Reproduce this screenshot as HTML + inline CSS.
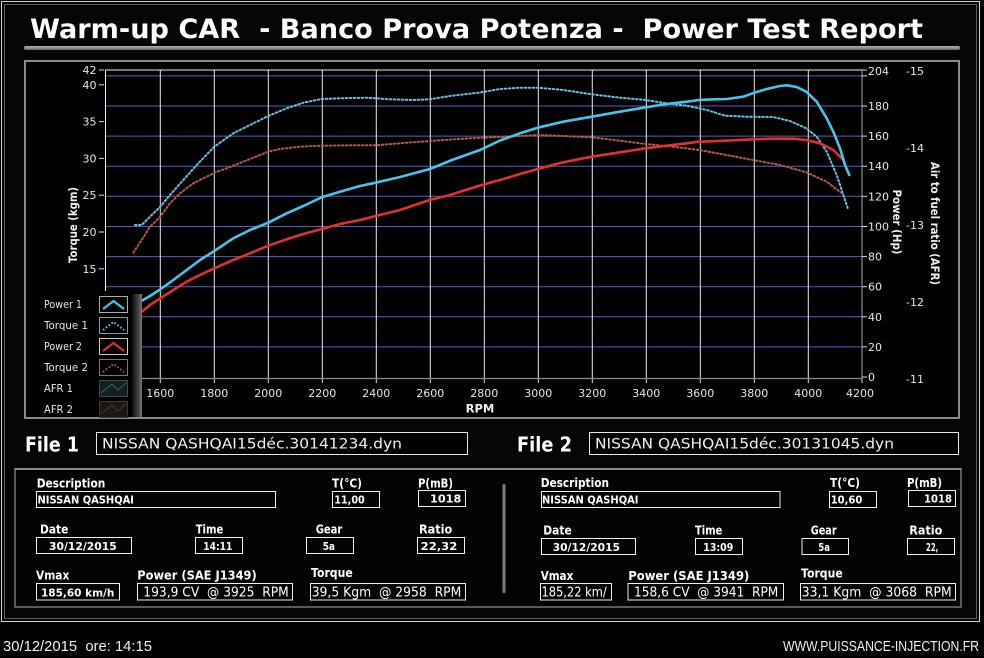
<!DOCTYPE html>
<html><head><meta charset="utf-8">
<style>
html,body{margin:0;padding:0;background:#000;}
body{width:984px;height:658px;overflow:hidden;}
svg{display:block;}
text{font-family:"Liberation Sans","DejaVu Sans",sans-serif;white-space:pre;}
.dv{font-family:"DejaVu Sans","Liberation Sans",sans-serif;}
</style></head>
<body>
<svg width="984" height="658" viewBox="0 0 984 658" xmlns="http://www.w3.org/2000/svg" xml:space="preserve">
<defs>
<linearGradient id="strip" x1="0" y1="0" x2="1" y2="0">
<stop offset="0" stop-color="#0c0c0c"/><stop offset="0.7" stop-color="#4a4a4a"/><stop offset="1" stop-color="#7a7a7a"/>
</linearGradient>
<linearGradient id="uline" x1="0" y1="0" x2="0" y2="1">
<stop offset="0" stop-color="#b0b0b0"/><stop offset="1" stop-color="#6a6a6a"/>
</linearGradient>
</defs>
<rect x="0" y="0" width="984" height="658" fill="#000"/>
<!-- outer window border -->
<rect x="1.5" y="1.5" width="978" height="620" fill="#050505" stroke="#d0d0d0" stroke-width="1"/>
<rect x="4.5" y="4.5" width="972" height="614" fill="none" stroke="#5a5a5a" stroke-width="1"/>

<!-- title -->
<text class="dv" x="30" y="38" font-size="27" font-weight="bold" fill="#fff" textLength="893" lengthAdjust="spacingAndGlyphs">Warm-up CAR  - Banco Prova Potenza -  Power Test Report</text>
<rect x="24" y="46" width="936" height="4" rx="2" fill="url(#uline)"/>

<!-- chart frame -->
<rect x="25" y="61" width="934" height="357" fill="#000" stroke="#8a8a8a" stroke-width="2"/>

<!-- horizontal grid -->
<g stroke="#5c5cc8" stroke-width="1">
<line x1="105" y1="346.9" x2="862" y2="346.9"/>
<line x1="105" y1="316.8" x2="862" y2="316.8"/>
<line x1="105" y1="286.7" x2="862" y2="286.7"/>
<line x1="105" y1="256.6" x2="862" y2="256.6"/>
<line x1="105" y1="226.5" x2="862" y2="226.5"/>
<line x1="105" y1="196.3" x2="862" y2="196.3"/>
<line x1="105" y1="166.2" x2="862" y2="166.2"/>
<line x1="105" y1="136.1" x2="862" y2="136.1"/>
<line x1="105" y1="106" x2="862" y2="106"/>
<line x1="105" y1="75.9" x2="862" y2="75.9"/>
</g>
<!-- vertical grid -->
<g stroke="#e8e8e8" stroke-width="1">
<line x1="160.3" y1="70" x2="160.3" y2="378"/>
<line x1="214.3" y1="70" x2="214.3" y2="378"/>
<line x1="268.3" y1="70" x2="268.3" y2="378"/>
<line x1="322.3" y1="70" x2="322.3" y2="378"/>
<line x1="376.3" y1="70" x2="376.3" y2="378"/>
<line x1="430.3" y1="70" x2="430.3" y2="378"/>
<line x1="484.3" y1="70" x2="484.3" y2="378"/>
<line x1="538.3" y1="70" x2="538.3" y2="378"/>
<line x1="592.3" y1="70" x2="592.3" y2="378"/>
<line x1="646.3" y1="70" x2="646.3" y2="378"/>
<line x1="700.3" y1="70" x2="700.3" y2="378"/>
<line x1="754.3" y1="70" x2="754.3" y2="378"/>
<line x1="808.3" y1="70" x2="808.3" y2="378"/>
</g>
<!-- plot borders -->
<line x1="105" y1="70" x2="862" y2="70" stroke="#f0f0f0" stroke-width="1"/>
<line x1="105.5" y1="70" x2="105.5" y2="379" stroke="#f0f0f0" stroke-width="1"/>
<line x1="105" y1="378.5" x2="862" y2="378.5" stroke="#8a8a8a" stroke-width="1.2"/>
<line x1="862" y1="70" x2="862" y2="379" stroke="#8a8a8a" stroke-width="1.2"/>

<!-- left ticks -->
<g stroke="#ddd" stroke-width="1">
<line x1="99" y1="70" x2="104" y2="70"/>
<line x1="99" y1="84.8" x2="104" y2="84.8"/>
<line x1="99" y1="121.6" x2="104" y2="121.6"/>
<line x1="99" y1="158.4" x2="104" y2="158.4"/>
<line x1="99" y1="195.2" x2="104" y2="195.2"/>
<line x1="99" y1="232" x2="104" y2="232"/>
<line x1="99" y1="268.8" x2="104" y2="268.8"/>
</g>
<g class="dv" font-size="11" fill="#e6e6e6" text-anchor="end">
<text class="dv" x="96.5" y="74">42</text>
<text class="dv" x="96.5" y="88.8">40</text>
<text class="dv" x="96.5" y="125.6">35</text>
<text class="dv" x="96.5" y="162.4">30</text>
<text class="dv" x="96.5" y="199.2">25</text>
<text class="dv" x="96.5" y="236">20</text>
<text class="dv" x="96.5" y="272.8">15</text>
</g>
<text class="dv" transform="translate(73,225) rotate(-90)" x="0" y="4" font-size="11.5" font-weight="bold" fill="#f0f0f0" text-anchor="middle" textLength="76" lengthAdjust="spacingAndGlyphs">Torque (kgm)</text>

<!-- right power ticks -->
<g stroke="#ddd" stroke-width="1">
<line x1="862" y1="70" x2="867" y2="70"/>
<line x1="862" y1="75.9" x2="867" y2="75.9"/>
<line x1="862" y1="106" x2="867" y2="106"/>
<line x1="862" y1="136.1" x2="867" y2="136.1"/>
<line x1="862" y1="166.2" x2="867" y2="166.2"/>
<line x1="862" y1="196.3" x2="867" y2="196.3"/>
<line x1="862" y1="226.5" x2="867" y2="226.5"/>
<line x1="862" y1="256.6" x2="867" y2="256.6"/>
<line x1="862" y1="286.7" x2="867" y2="286.7"/>
<line x1="862" y1="316.8" x2="867" y2="316.8"/>
<line x1="862" y1="346.9" x2="867" y2="346.9"/>
<line x1="862" y1="377" x2="867" y2="377"/>
</g>
<g font-size="11" fill="#e6e6e6">
<text class="dv" x="868" y="75">204</text>
<text class="dv" x="868" y="110">180</text>
<text class="dv" x="868" y="140.1">160</text>
<text class="dv" x="868" y="170.2">140</text>
<text class="dv" x="868" y="200.3">120</text>
<text class="dv" x="868" y="230.5">100</text>
<text class="dv" x="868" y="260.6">80</text>
<text class="dv" x="868" y="290.7">60</text>
<text class="dv" x="868" y="320.8">40</text>
<text class="dv" x="868" y="350.9">20</text>
<text class="dv" x="868" y="381">0</text>
</g>
<text class="dv" transform="translate(897,222) rotate(90)" x="0" y="4" font-size="11.5" font-weight="bold" fill="#f0f0f0" text-anchor="middle" textLength="65" lengthAdjust="spacingAndGlyphs">Power (Hp)</text>

<!-- AFR axis -->
<g font-size="11" fill="#e6e6e6">
<text class="dv" x="906" y="75">-15</text>
<text class="dv" x="906" y="152">-14</text>
<text class="dv" x="906" y="229">-13</text>
<text class="dv" x="906" y="306">-12</text>
<text class="dv" x="906" y="383">-11</text>
</g>
<text class="dv" transform="translate(935,223.5) rotate(90)" x="0" y="4" font-size="11.5" font-weight="bold" fill="#f0f0f0" text-anchor="middle" textLength="123" lengthAdjust="spacingAndGlyphs">Air to fuel ratio (AFR)</text>

<!-- x ticks -->
<g stroke="#ddd" stroke-width="1">
<line x1="160.3" y1="379" x2="160.3" y2="383"/>
<line x1="214.3" y1="379" x2="214.3" y2="383"/>
<line x1="268.3" y1="379" x2="268.3" y2="383"/>
<line x1="322.3" y1="379" x2="322.3" y2="383"/>
<line x1="376.3" y1="379" x2="376.3" y2="383"/>
<line x1="430.3" y1="379" x2="430.3" y2="383"/>
<line x1="484.3" y1="379" x2="484.3" y2="383"/>
<line x1="538.3" y1="379" x2="538.3" y2="383"/>
<line x1="592.3" y1="379" x2="592.3" y2="383"/>
<line x1="646.3" y1="379" x2="646.3" y2="383"/>
<line x1="700.3" y1="379" x2="700.3" y2="383"/>
<line x1="754.3" y1="379" x2="754.3" y2="383"/>
<line x1="808.3" y1="379" x2="808.3" y2="383"/>
<line x1="862" y1="379" x2="862" y2="383"/>
</g>
<g font-size="11" fill="#e6e6e6" text-anchor="middle">
<text class="dv" x="160.3" y="397">1600</text>
<text class="dv" x="214.3" y="397">1800</text>
<text class="dv" x="268.3" y="397">2000</text>
<text class="dv" x="322.3" y="397">2200</text>
<text class="dv" x="376.3" y="397">2400</text>
<text class="dv" x="430.3" y="397">2600</text>
<text class="dv" x="484.3" y="397">2800</text>
<text class="dv" x="538.3" y="397">3000</text>
<text class="dv" x="592.3" y="397">3200</text>
<text class="dv" x="646.3" y="397">3400</text>
<text class="dv" x="700.3" y="397">3600</text>
<text class="dv" x="754.3" y="397">3800</text>
<text class="dv" x="808.3" y="397">4000</text>
<text class="dv" x="860" y="397">4200</text>
</g>
<text class="dv" x="480" y="412.5" font-size="11.5" font-weight="bold" fill="#f0f0f0" text-anchor="middle">RPM</text>

<!-- curves -->
<g fill="none" stroke-linejoin="round" stroke-linecap="round">
<polyline stroke="#b35a44" stroke-width="2" stroke-dasharray="1.6 2.4" points="133.3,252.7 141.7,240 150,226.7 160.3,216.7 170,203.3 180,193.3 193.3,183.3 206.7,176.7 214.3,172.7 226.7,168.3 243.3,161.7 260,155 268.3,151.7 280,149 300,146.7 321.7,145.7 350,145.3 375.7,145.3 400,143.3 429.7,141 453.3,139.3 480,137.8 506.7,136.7 537.7,135 563.3,136 591.7,137.3 620,140.7 645.7,144 673.3,146.7 699,150 726.7,155 752.7,160 780,165 806.3,172.3 826.7,181.7 843.3,194.3"/>
<polyline stroke="#68c0e0" stroke-width="2" stroke-dasharray="1.6 2.4" points="135,225 141.7,225 150,216.7 160.3,206.7 170,195 183.3,180 196.7,165 214.3,146.7 233.3,133.3 250,125 268.3,116 286.7,108.3 303.3,102.7 321.7,99 340,98.3 366.7,97.7 375.7,98.3 390,99.3 413.3,100 429.7,99.3 450,96 480,92.5 500,89 520,87.7 537.7,87.7 563.3,90 591.7,94.3 620,97.7 645.7,100 666.7,103.3 686.7,105.7 706.7,110 725,115.7 746.7,116.7 773.3,117 790,121 806.3,128.3 816.7,136.7 826.7,151.7 836.7,175 843.3,195 848.3,210"/>
<polyline stroke="#e03030" stroke-width="2.6" points="130,320 140,313.3 150,305 160.3,298.3 173.3,290 186.7,281.7 200,275 214.3,268.3 233.3,260 250,253.3 268.3,245.7 286.7,239.3 303.3,234 321.7,229 340,224 360,220 375.7,216 400,210 429.7,200 450,195 480,185.5 500,180 520,174 537.7,169 563.3,162.3 591.7,156.7 620,152.3 645.7,148.3 666.7,145.7 686.7,143.3 699,141.7 726.7,140.7 752.7,139.3 773.3,138.7 793.3,138.7 806.3,140 820,143.3 833.3,150 843.3,160"/>
<polyline stroke="#45c6e8" stroke-width="2.6" points="130,308 140,301.7 150,296 160.3,289.3 173.3,280 186.7,270 200,260 214.3,251 233.3,238.3 250,230 268.3,222.7 286.7,213.3 303.3,206 321.7,197.3 340,191.7 360,186 375.7,182.7 400,177 430,169 452,160 480,150 500,140.5 520,133.3 537.7,127.7 563.3,121.7 591.7,116.7 620,111.7 645.7,107.3 666.7,104 686.7,101.7 699,100 713.3,99.3 726.7,99 743.3,96.7 752.7,93.3 766.7,89 780,86 786.7,85.3 796.7,87 806.3,91.7 816.7,101.7 826.7,118.3 833.3,131.7 840,148.3 845,165 849.3,175"/>
</g>

<!-- legend -->
<rect x="26" y="291" width="116" height="126" fill="#000"/>
<rect x="132" y="294" width="10" height="123" fill="url(#strip)"/>
<g font-size="11" fill="#e8e8e8">
<text class="dv" x="44" y="308" textLength="38" lengthAdjust="spacingAndGlyphs">Power 1</text>
<text class="dv" x="44" y="329" textLength="44" lengthAdjust="spacingAndGlyphs">Torque 1</text>
<text class="dv" x="44" y="350" textLength="38" lengthAdjust="spacingAndGlyphs">Power 2</text>
<text class="dv" x="44" y="371" textLength="44" lengthAdjust="spacingAndGlyphs">Torque 2</text>
<text class="dv" x="44" y="392" textLength="29" lengthAdjust="spacingAndGlyphs">AFR 1</text>
<text class="dv" x="44" y="413" textLength="29" lengthAdjust="spacingAndGlyphs">AFR 2</text>
</g>
<g stroke-width="1">
<rect x="99.5" y="296.5" width="28" height="16" fill="#000" stroke="#9fb0b0"/>
<rect x="99.5" y="317.5" width="28" height="16" fill="#000" stroke="#8a9a9a"/>
<rect x="99.5" y="338.5" width="28" height="16" fill="#000" stroke="#c8c8c8"/>
<rect x="99.5" y="359.5" width="28" height="16" fill="#000" stroke="#7a7a7a"/>
<rect x="99.5" y="380.5" width="28" height="16" fill="#142020" stroke="#3e4c4c"/>
<rect x="99.5" y="401.5" width="28" height="16" fill="#1a1714" stroke="#3c3834"/>
</g>
<g fill="none" stroke-linejoin="round">
<polyline stroke="#45c6e8" stroke-width="2.2" points="103,309 113.5,301 124,309"/>
<polyline stroke="#68c0e0" stroke-width="2" stroke-dasharray="1.6 2" points="103,330 113.5,322 124,330"/>
<polyline stroke="#e03030" stroke-width="2.2" points="103,351 113.5,343 124,351"/>
<polyline stroke="#b35a44" stroke-width="2" stroke-dasharray="1.6 2" points="103,372 113.5,364 124,372"/>
<polyline stroke="#2f6666" stroke-width="1" points="101,393 112,384 118,390 126,383"/>
<polyline stroke="#4a3a30" stroke-width="1" points="101,414 112,405 118,411 126,404"/>
</g>

<!-- File rows -->
<text class="dv" x="25" y="451.5" font-size="20" font-weight="bold" fill="#fff" textLength="54" lengthAdjust="spacingAndGlyphs">File 1</text>
<rect x="96.5" y="432.5" width="371" height="22" fill="#000" stroke="#e8e8e8" stroke-width="1"/>
<text class="dv" x="102" y="448.5" font-size="14.5" fill="#f0f0f0" textLength="300" lengthAdjust="spacingAndGlyphs">NISSAN QASHQAI15déc.30141234.dyn</text>
<text class="dv" x="517" y="451.5" font-size="20" font-weight="bold" fill="#fff" textLength="55" lengthAdjust="spacingAndGlyphs">File 2</text>
<rect x="589.5" y="432.5" width="369" height="22" fill="#000" stroke="#e8e8e8" stroke-width="1"/>
<text class="dv" x="595" y="448.5" font-size="14.5" fill="#f0f0f0" textLength="299" lengthAdjust="spacingAndGlyphs">NISSAN QASHQAI15déc.30131045.dyn</text>

<!-- info panel frame -->
<rect x="15" y="469" width="946" height="138" fill="#030303" stroke="#5a5a5a" stroke-width="2"/>
<line x1="15" y1="469" x2="961" y2="469" stroke="#8a8a8a" stroke-width="2"/>
<rect x="502.5" y="484" width="3" height="109" rx="1.5" fill="#7a7a7a"/>

<!-- panel 1 -->
<g font-size="12" font-weight="bold" fill="#fff">
<text class="dv" x="36.7" y="487.5" textLength="68.6" lengthAdjust="spacingAndGlyphs">Description</text>
<text class="dv" x="332" y="487.5" textLength="30" lengthAdjust="spacingAndGlyphs">T(°C)</text>
<text class="dv" x="418" y="487.5" textLength="35" lengthAdjust="spacingAndGlyphs">P(mB)</text>
<text class="dv" x="40" y="533.5" textLength="28.3" lengthAdjust="spacingAndGlyphs">Date</text>
<text class="dv" x="195.7" y="533.5" textLength="27.6" lengthAdjust="spacingAndGlyphs">Time</text>
<text class="dv" x="315.7" y="533.5" textLength="26.6" lengthAdjust="spacingAndGlyphs">Gear</text>
<text class="dv" x="419" y="533.5" textLength="33.3" lengthAdjust="spacingAndGlyphs">Ratio</text>
<text class="dv" x="36" y="579.5" textLength="33.3" lengthAdjust="spacingAndGlyphs">Vmax</text>
<text class="dv" x="137.3" y="579.5" textLength="119.4" lengthAdjust="spacingAndGlyphs">Power (SAE J1349)</text>
<text class="dv" x="311" y="577" textLength="41.7" lengthAdjust="spacingAndGlyphs">Torque</text>
</g>
<g fill="none" stroke="#eee" stroke-width="1">
<rect x="36.5" y="491.5" width="239" height="16"/>
<rect x="332.5" y="491.5" width="47" height="16"/>
<rect x="418.5" y="490.5" width="47" height="16"/>
<rect x="36.5" y="537.5" width="95" height="16"/>
<rect x="195.5" y="537.5" width="47" height="16"/>
<rect x="306.5" y="537.5" width="47" height="16"/>
<rect x="417.5" y="537.5" width="47" height="16"/>
<rect x="36.5" y="583.5" width="83" height="16.5"/>
<rect x="137.5" y="583.5" width="155" height="16.5"/>
<rect x="310.5" y="583.5" width="155" height="16.5"/>
</g>
<g font-size="11" font-weight="bold" fill="#fff">
<text class="dv" x="37.5" y="503.5" textLength="96.5" lengthAdjust="spacingAndGlyphs">NISSAN QASHQAI</text>
<text class="dv" x="334.3" y="503.5" textLength="30.4" lengthAdjust="spacingAndGlyphs">11,00</text>
<text class="dv" x="430" y="502.5" textLength="31.3" lengthAdjust="spacingAndGlyphs">1018</text>
<text class="dv" x="49" y="550" textLength="67.7" lengthAdjust="spacingAndGlyphs">30/12/2015</text>
<text class="dv" x="203.3" y="550" textLength="29" lengthAdjust="spacingAndGlyphs">14:11</text>
<text class="dv" x="322.7" y="550" textLength="12.3" lengthAdjust="spacingAndGlyphs">5a</text>
<text class="dv" x="420.7" y="550" textLength="36.6" lengthAdjust="spacingAndGlyphs">22,32</text>
<text class="dv" x="41" y="596.5" textLength="73.3" lengthAdjust="spacingAndGlyphs">185,60 km/h</text>
</g>
<g font-size="13" fill="#fff">
<text class="dv" x="143.3" y="596.5" textLength="145.4" lengthAdjust="spacingAndGlyphs">193,9 CV  @ 3925  RPM</text>
<text class="dv" x="311.7" y="596.5" textLength="149.6" lengthAdjust="spacingAndGlyphs">39,5 Kgm  @ 2958  RPM</text>
</g>

<!-- panel 2 -->
<g font-size="12" font-weight="bold" fill="#fff">
<text class="dv" x="540.7" y="487" textLength="68.3" lengthAdjust="spacingAndGlyphs">Description</text>
<text class="dv" x="830" y="487" textLength="30" lengthAdjust="spacingAndGlyphs">T(°C)</text>
<text class="dv" x="907" y="487" textLength="35" lengthAdjust="spacingAndGlyphs">P(mB)</text>
<text class="dv" x="543.3" y="534.5" textLength="28.4" lengthAdjust="spacingAndGlyphs">Date</text>
<text class="dv" x="695" y="534.5" textLength="27.3" lengthAdjust="spacingAndGlyphs">Time</text>
<text class="dv" x="810.7" y="534.5" textLength="26" lengthAdjust="spacingAndGlyphs">Gear</text>
<text class="dv" x="909.3" y="534.5" textLength="33" lengthAdjust="spacingAndGlyphs">Ratio</text>
<text class="dv" x="540.7" y="580" textLength="32.6" lengthAdjust="spacingAndGlyphs">Vmax</text>
<text class="dv" x="628.3" y="580" textLength="121" lengthAdjust="spacingAndGlyphs">Power (SAE J1349)</text>
<text class="dv" x="801" y="577.5" textLength="41.7" lengthAdjust="spacingAndGlyphs">Torque</text>
</g>
<g fill="none" stroke="#eee" stroke-width="1">
<rect x="541.5" y="491.5" width="238.5" height="16"/>
<rect x="829.5" y="491.5" width="47" height="16"/>
<rect x="908.5" y="490.5" width="47" height="16"/>
<rect x="541.5" y="538.5" width="94" height="16"/>
<rect x="695.5" y="538.5" width="47" height="16"/>
<rect x="802" y="538.5" width="46.5" height="16"/>
<rect x="907.5" y="538.5" width="47" height="16"/>
<rect x="540.5" y="583.5" width="71" height="16.5"/>
<rect x="628" y="583.5" width="155.5" height="16.5"/>
<rect x="800.5" y="583.5" width="155" height="16.5"/>
</g>
<g font-size="11" font-weight="bold" fill="#fff">
<text class="dv" x="542" y="503.5" textLength="96.5" lengthAdjust="spacingAndGlyphs">NISSAN QASHQAI</text>
<text class="dv" x="830.7" y="503.5" textLength="31.6" lengthAdjust="spacingAndGlyphs">10,60</text>
<text class="dv" x="924" y="502.5" textLength="28" lengthAdjust="spacingAndGlyphs">1018</text>
<text class="dv" x="552.7" y="551" textLength="67.3" lengthAdjust="spacingAndGlyphs">30/12/2015</text>
<text class="dv" x="703.3" y="551" textLength="30" lengthAdjust="spacingAndGlyphs">13:09</text>
<text class="dv" x="818.3" y="551" textLength="11.7" lengthAdjust="spacingAndGlyphs">5a</text>
<text class="dv" x="926" y="551" textLength="12.3" lengthAdjust="spacingAndGlyphs">22,</text>
</g>
<g font-size="13" fill="#fff">
<text class="dv" x="541.5" y="596.5" textLength="65.2" lengthAdjust="spacingAndGlyphs">185,22 km/</text>
<text class="dv" x="634" y="596.5" textLength="144.3" lengthAdjust="spacingAndGlyphs">158,6 CV  @ 3941  RPM</text>
<text class="dv" x="801.7" y="596.5" textLength="150" lengthAdjust="spacingAndGlyphs">33,1 Kgm  @ 3068  RPM</text>
</g>

<!-- footer -->
<text x="3" y="651" font-size="15" fill="#f0f0f0" textLength="149" lengthAdjust="spacingAndGlyphs">30/12/2015  ore: 14:15</text>
<text x="783" y="651" font-size="15" fill="#f0f0f0" textLength="196" lengthAdjust="spacingAndGlyphs">WWW.PUISSANCE-INJECTION.FR</text>
</svg>
</body></html>
